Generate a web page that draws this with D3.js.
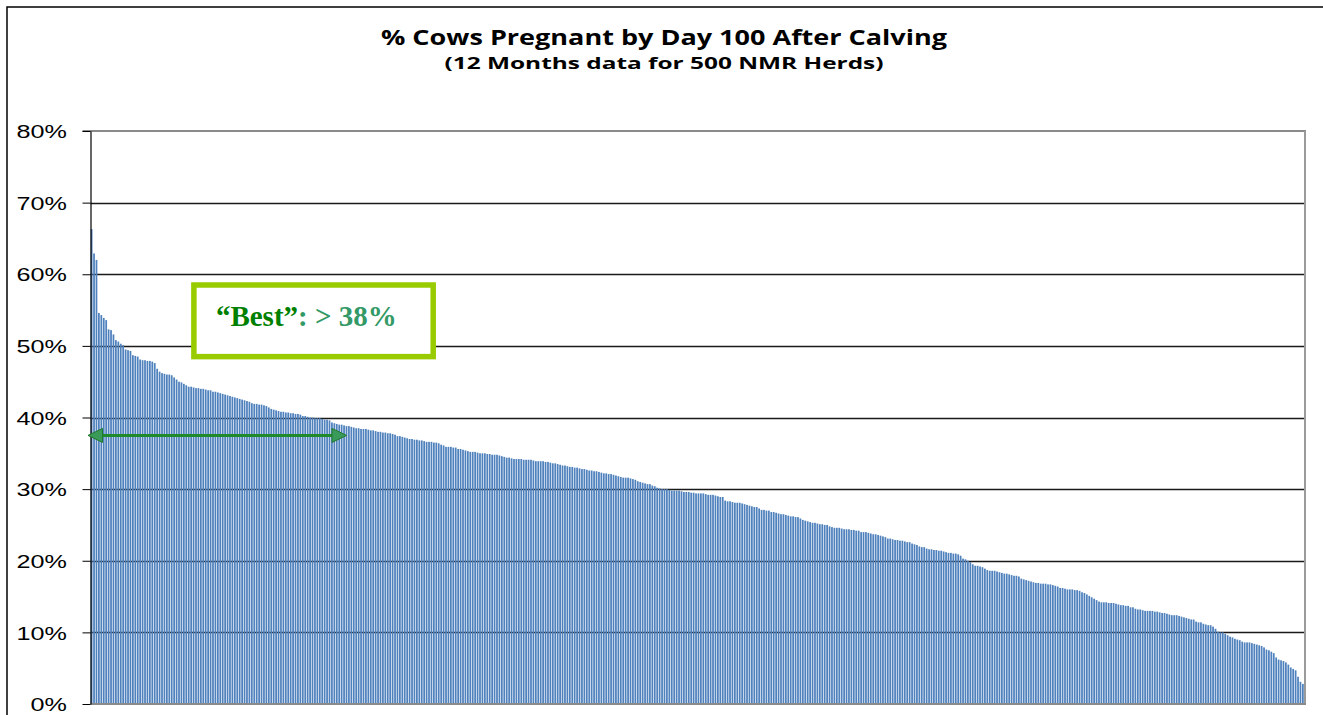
<!DOCTYPE html>
<html>
<head>
<meta charset="utf-8">
<script src="https://cdn.jsdelivr.net/npm/d3@7"></script>
<style>
  html, body { margin: 0; padding: 0; background: #fff; }
  svg { display: block; }
</style>
</head>
<body>
<svg id="chart" width="1323" height="715"></svg>
<script>
// ---------- DATA ----------
const titleText = "% Cows Pregnant by Day 100 After Calving";
const subtitleText = "(12 Months  data for 500 NMR Herds)";
const yTicks = [0, 10, 20, 30, 40, 50, 60, 70, 80];
// % of cows pregnant by day 100, one value per herd, herds ranked high to low
const herdValues = [
  66.3, 62.9, 62.0, 54.6, 54.3, 53.9, 53.6, 52.3, 52.2, 51.6,
  50.8, 50.6, 50.3, 50.1, 49.5, 49.4, 49.3, 48.7, 48.6, 48.5,
  48.1, 48.0, 48.0, 47.9, 47.9, 47.8, 47.6, 46.8, 46.4, 46.2,
  46.1, 46.0, 46.0, 45.9, 45.6, 45.3, 45.0, 44.9, 44.7, 44.5,
  44.3, 44.3, 44.2, 44.1, 44.1, 44.0, 44.0, 43.9, 43.8, 43.8,
  43.6, 43.6, 43.5, 43.4, 43.3, 43.2, 43.1, 43.0, 42.9, 42.8,
  42.7, 42.6, 42.5, 42.4, 42.3, 42.2, 42.0, 41.9, 41.9, 41.8,
  41.8, 41.7, 41.6, 41.4, 41.2, 41.1, 41.0, 40.9, 40.8, 40.8,
  40.7, 40.7, 40.6, 40.6, 40.5, 40.5, 40.4, 40.2, 40.2, 40.1,
  40.0, 40.0, 39.9, 39.9, 39.9, 39.8, 39.7, 39.7, 39.6, 39.3,
  39.2, 39.1, 39.0, 39.0, 38.9, 38.8, 38.8, 38.7, 38.6, 38.5,
  38.5, 38.4, 38.4, 38.4, 38.3, 38.2, 38.2, 38.1, 38.0, 38.0,
  37.9, 37.9, 37.8, 37.8, 37.7, 37.6, 37.4, 37.4, 37.3, 37.2,
  37.1, 37.0, 37.0, 36.9, 36.9, 36.8, 36.8, 36.7, 36.6, 36.6,
  36.6, 36.5, 36.5, 36.4, 36.2, 36.1, 35.9, 35.9, 35.9, 35.8,
  35.8, 35.6, 35.6, 35.5, 35.4, 35.3, 35.2, 35.2, 35.2, 35.1,
  35.0, 35.0, 35.0, 34.9, 34.9, 34.8, 34.8, 34.8, 34.7, 34.6,
  34.5, 34.4, 34.4, 34.3, 34.2, 34.2, 34.2, 34.2, 34.1, 34.1,
  34.1, 34.1, 34.0, 33.9, 33.9, 33.9, 33.9, 33.8, 33.8, 33.7,
  33.6, 33.6, 33.5, 33.4, 33.3, 33.3, 33.2, 33.1, 33.1, 33.0,
  33.0, 32.9, 32.8, 32.8, 32.7, 32.6, 32.6, 32.5, 32.5, 32.4,
  32.3, 32.2, 32.2, 32.1, 32.1, 32.0, 31.9, 31.8, 31.7, 31.6,
  31.6, 31.6, 31.5, 31.4, 31.3, 31.1, 31.0, 30.9, 30.8, 30.7,
  30.7, 30.5, 30.4, 30.2, 30.1, 30.0, 30.0, 30.0, 29.9, 29.8,
  29.8, 29.8, 29.8, 29.7, 29.6, 29.6, 29.6, 29.5, 29.5, 29.4,
  29.4, 29.4, 29.4, 29.3, 29.2, 29.2, 29.2, 29.1, 29.0, 28.9,
  28.9, 28.4, 28.3, 28.3, 28.2, 28.1, 28.1, 28.1, 28.0, 27.9,
  27.8, 27.7, 27.6, 27.5, 27.5, 27.3, 27.1, 27.1, 27.0, 27.0,
  26.8, 26.8, 26.7, 26.6, 26.5, 26.5, 26.4, 26.3, 26.2, 26.2,
  26.1, 26.1, 25.9, 25.7, 25.6, 25.5, 25.4, 25.3, 25.3, 25.2,
  25.1, 25.1, 25.0, 25.0, 24.8, 24.7, 24.6, 24.6, 24.6, 24.5,
  24.4, 24.4, 24.4, 24.3, 24.3, 24.2, 24.2, 24.0, 24.0, 24.0,
  23.9, 23.8, 23.7, 23.7, 23.6, 23.5, 23.4, 23.3, 23.1, 23.1,
  23.0, 22.9, 22.9, 22.8, 22.8, 22.7, 22.6, 22.6, 22.4, 22.3,
  22.2, 22.0, 21.9, 21.9, 21.7, 21.6, 21.6, 21.5, 21.5, 21.4,
  21.4, 21.3, 21.2, 21.1, 21.1, 21.0, 21.0, 20.9, 20.7, 20.3,
  20.2, 20.0, 19.8, 19.5, 19.3, 19.3, 19.2, 19.1, 18.9, 18.7,
  18.6, 18.6, 18.6, 18.5, 18.4, 18.3, 18.2, 18.2, 18.1, 18.0,
  17.9, 17.9, 17.8, 17.5, 17.4, 17.3, 17.2, 17.1, 17.0, 16.9,
  16.9, 16.8, 16.8, 16.8, 16.7, 16.7, 16.6, 16.5, 16.4, 16.2,
  16.2, 16.1, 16.0, 16.0, 16.0, 15.9, 15.9, 15.8, 15.6, 15.5,
  15.3, 15.1, 14.9, 14.7, 14.5, 14.3, 14.2, 14.2, 14.2, 14.1,
  14.1, 14.1, 14.0, 13.9, 13.8, 13.8, 13.7, 13.7, 13.5, 13.5,
  13.3, 13.2, 13.2, 13.1, 13.0, 13.0, 13.0, 13.0, 12.9, 12.9,
  12.8, 12.7, 12.7, 12.6, 12.5, 12.4, 12.4, 12.4, 12.3, 12.2,
  12.1, 12.0, 11.9, 11.8, 11.8, 11.5, 11.4, 11.4, 11.2, 11.1,
  11.0, 11.0, 10.8, 10.5, 10.1, 10.0, 10.0, 9.8, 9.6, 9.4,
  9.3, 9.1, 9.0, 8.9, 8.7, 8.6, 8.6, 8.6, 8.5, 8.4,
  8.3, 8.2, 8.1, 7.9, 7.6, 7.5, 7.3, 7.1, 6.5, 6.2,
  6.1, 6.0, 5.8, 5.5, 5.1, 4.9, 4.7, 3.8, 3.1, 2.8
];
const herdRanks = herdValues.map((v, i) => i + 1);
// annotation: "Best" = herds above 38%
const bestLabelA = "\u201CBest\u201D";
const bestLabelB = ": > 38%";

// ---------- LAYOUT ----------
const svg = d3.select("#chart");
const plot = { left: 90.5, right: 1305, top: 131, bottom: 704 };

const x = d3.scaleBand()
  .domain(herdRanks)
  .range([plot.left, plot.right - 1])
  .paddingInner(0.28)
  .paddingOuter(0.1);
const xr = d3.scaleLinear().domain([0, herdRanks.length]).range([plot.left, plot.right - 1]);
const y = d3.scaleLinear().domain([0, 80]).range([plot.bottom, plot.top]);

// outer frame
svg.append("rect")
  .attr("x", 7).attr("y", 7).attr("width", 1340).attr("height", 740)
  .attr("fill", "none").attr("stroke", "#000").attr("stroke-width", 1.5);

// titles
svg.append("text")
  .attr("x", 664).attr("y", 45)
  .attr("text-anchor", "middle")
  .attr("font-family", "'Open Sans', sans-serif")
  .attr("font-weight", "bold").attr("font-size", 20.5)
  .attr("textLength", 566).attr("lengthAdjust", "spacingAndGlyphs")
  .text(titleText);
svg.append("text")
  .attr("x", 664).attr("y", 69)
  .attr("text-anchor", "middle")
  .attr("font-family", "'Open Sans', sans-serif")
  .attr("font-weight", "bold").attr("font-size", 16)
  .attr("textLength", 439).attr("lengthAdjust", "spacingAndGlyphs")
  .text(subtitleText);

// gridlines (behind bars)
svg.append("g").selectAll("line")
  .data(yTicks.filter(d => d > 0 && d < 80))
  .join("line")
  .attr("x1", plot.left).attr("x2", plot.right)
  .attr("y1", d => Math.round(y(d)) + 0.5).attr("y2", d => Math.round(y(d)) + 0.5)
  .attr("stroke", "#1a1a1a").attr("stroke-width", 1.4);

// top line of plot area and right border
svg.append("line")
  .attr("x1", plot.left - 8).attr("x2", plot.right + 1)
  .attr("y1", y(80)).attr("y2", y(80))
  .attr("stroke", "#8a8a8a").attr("stroke-width", 2);
svg.append("line")
  .attr("x1", plot.right).attr("x2", plot.right)
  .attr("y1", y(80)).attr("y2", y(0))
  .attr("stroke", "#9a9a9a").attr("stroke-width", 2);

// bars
svg.append("g").selectAll("rect")
  .data(herdValues)
  .join("rect")
  .attr("x", (d, i) => x(herdRanks[i]))
  .attr("width", x.bandwidth())
  .attr("y", d => y(d))
  .attr("height", d => y(0) - y(d))
  .attr("fill", "#4f81bd");

// bottom axis line
svg.append("line")
  .attr("x1", plot.left).attr("x2", plot.right + 1)
  .attr("y1", y(0)).attr("y2", y(0))
  .attr("stroke", "#8a8a8a").attr("stroke-width", 2);

// y axis
const sx = 1.4;
const yAxis = svg.append("g")
  .attr("transform", `translate(${plot.left},0)`)
  .call(d3.axisLeft(y).tickValues(yTicks).tickSize(8).tickSizeOuter(0).tickFormat(d => d + "%"));
yAxis.select(".domain").attr("stroke", "#000").attr("stroke-width", 1.2);
yAxis.selectAll(".tick line").attr("stroke", "#000");
yAxis.selectAll(".tick text")
  .attr("x", -23.5 / sx)
  .attr("dy", "0.37em")
  .attr("transform", `scale(${sx},1)`)
  .attr("font-family", "'Liberation Sans', Arial, sans-serif")
  .attr("font-size", 18)
  .attr("fill", "#000");

// annotation box
const box = { r0: 42.6, r1: 141.2, top: 58.5, bottom: 48.5 };
svg.append("rect")
  .attr("x", xr(box.r0)).attr("y", y(box.top))
  .attr("width", xr(box.r1) - xr(box.r0))
  .attr("height", y(box.bottom) - y(box.top))
  .attr("fill", "#fff").attr("stroke", "#99cc00").attr("stroke-width", 5.5);
const lbl = svg.append("text")
  .attr("x", xr(box.r0) + 22).attr("y", y(box.bottom) - 31)
  .attr("font-family", "'Liberation Serif', 'Times New Roman', serif")
  .attr("font-weight", "bold").attr("font-size", 29);
lbl.append("tspan").attr("fill", "#008000").text(bestLabelA);
lbl.append("tspan").attr("fill", "#339966").text(bestLabelB);

// double-headed arrow spanning the "best" herds
const arrowY = y(37.5);
const ax0 = plot.left - 2.5;
const ax1 = xr(105.5);
const head = 14.5, half = 7;
svg.append("line")
  .attr("x1", ax0 + head).attr("x2", ax1 - head)
  .attr("y1", arrowY).attr("y2", arrowY)
  .attr("stroke", "#1f8a2a").attr("stroke-width", 3);
svg.append("path")
  .attr("d", `M${ax0},${arrowY} L${ax0 + head},${arrowY - half} L${ax0 + head},${arrowY + half} Z`)
  .attr("fill", "#3a9a5a").attr("stroke", "#1f7a2a").attr("stroke-width", 1);
svg.append("path")
  .attr("d", `M${ax1},${arrowY} L${ax1 - head},${arrowY - half} L${ax1 - head},${arrowY + half} Z`)
  .attr("fill", "#3a9a5a").attr("stroke", "#1f7a2a").attr("stroke-width", 1);
</script>
</body>
</html>
